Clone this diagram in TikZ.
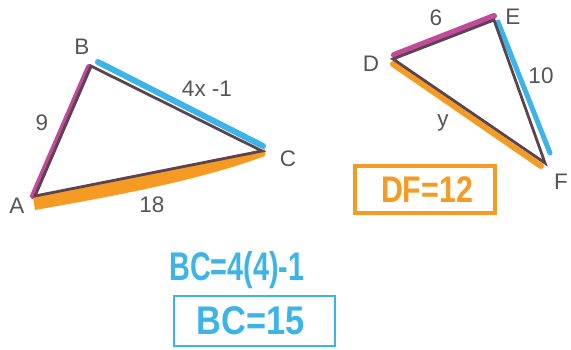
\documentclass[tikz,border=0pt]{standalone}
\usepackage{fontspec}
\setmainfont{Liberation Sans}
\definecolor{mag}{HTML}{C24A9A}
\definecolor{sky}{HTML}{3DB4E8}
\definecolor{org}{HTML}{F59A22}
\definecolor{edge}{HTML}{5A4450}
\definecolor{lbl}{HTML}{555555}
\begin{document}
\begin{tikzpicture}[x=1pt,y=-1pt,
  lab/.style={text=lbl,font=\fontsize{22.5}{22.5}\selectfont,inner sep=0pt},
  hand/.style={inner sep=0pt,font=\bfseries\fontsize{40}{40}\selectfont},
  side/.style={edge,line width=2.8pt,line cap=round},
  hl/.style={line width=6pt,line cap=round}]
\useasboundingbox (0,0) rectangle (571,349);
\coordinate (A) at (35,196);
\coordinate (B) at (91,66);
\coordinate (C) at (262,151);
\coordinate (D) at (393,59);
\coordinate (E) at (494,20);
\coordinate (F) at (545,163);
% highlights
\draw[hl,mag] ([shift={(-2,0)}]A) -- ([shift={(-2,1)}]B);
\draw[hl,sky] ([shift={(7,-4)}]B) -- ([shift={(1,-5)}]C);
\fill[org] (33,196) -- (265,149) -- (265,156) .. controls (200,180) and (120,195) .. (35,210) -- cycle;
\draw[hl,mag] ([shift={(1,-4)}]D) -- ([shift={(0,-4)}]E);
\draw[hl,sky,line width=5pt] ([shift={(4,2)}]E) -- ([shift={(5,-10)}]F);
\draw[hl,org] ([shift={(0,5)}]D) -- ([shift={(-4,3)}]F);
% sides
\draw[side] (A) -- (B) -- (C) -- cycle;
\draw[side] (D) -- (E) -- (F) -- cycle;
% labels
\node[lab] (lA) at (17,206) {A};
\node[lab] (lB) at (82,47) {B};
\node[lab] (lC) at (288,159) {C};
\node[lab] (l9) at (42,123) {9};
\node[lab] (l4x) at (207,89) {4x -1};
\node[lab] (l18) at (152,205) {18};
\node[lab] (lD) at (371,64) {D};
\node[lab] (lE) at (513,17) {E};
\node[lab] (lF) at (561,182) {F};
\node[lab] (l6) at (436,18) {6};
\node[lab] (l10) at (541,76) {10};
\node[lab] (ly) at (443,123) {y};
% DF box
\node[hand,text=org,xscale=0.82,font=\bfseries\fontsize{37}{37}\selectfont] (df) at (427,190) {DF=12};
\draw[org,line width=4pt] (355,166) rectangle (495,213);
% BC work
\node[hand,text=sky,xscale=0.72] (bc1) at (237,270) {BC=4(4)-1};
\node[hand,text=sky,xscale=0.86] (bc2) at (251,321) {BC=15};
\draw[sky,line width=2.5pt] (174,296) rectangle (335,346);
\end{tikzpicture}
\end{document}
